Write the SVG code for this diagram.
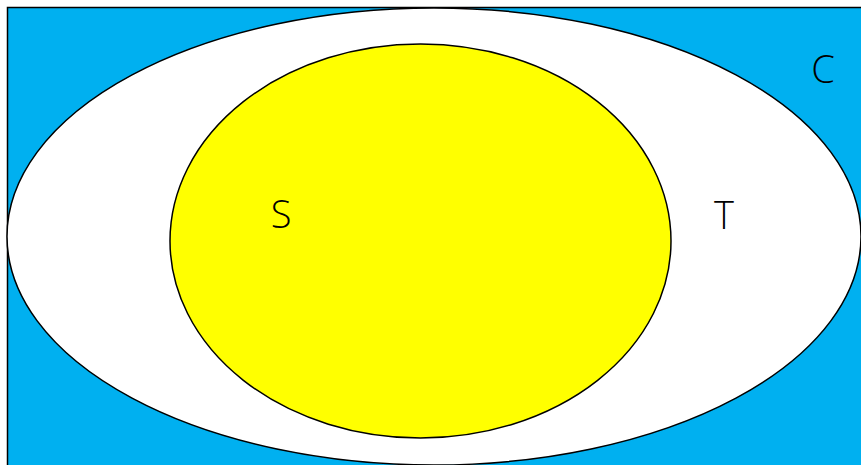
<svg xmlns="http://www.w3.org/2000/svg" width="861" height="465" viewBox="0 0 861 465">
<style>
.lbl{font-family:"Open Sans","Liberation Sans",sans-serif;font-weight:300;font-size:38px;fill:#000;text-anchor:middle}
.shape{stroke:#000;stroke-width:1.5}
</style>
<rect width="861" height="465" fill="#fff"/>
<g id="C">
<rect class="shape" x="7.5" y="7.5" width="870" height="470" fill="#00B0F0" stroke-width="2"/>
<text class="lbl" x="823" y="83">C</text>
</g>
<g id="T">
<ellipse class="shape" cx="434" cy="236.5" rx="427" ry="228.5" fill="#fff"/>
<text class="lbl" x="724" y="229">T</text>
</g>
<g id="S">
<ellipse class="shape" cx="420.5" cy="241" rx="250.5" ry="197" fill="#FFFF00"/>
<text class="lbl" x="281" y="228">S</text>
</g>
<g id="connectors"/>
</svg>
